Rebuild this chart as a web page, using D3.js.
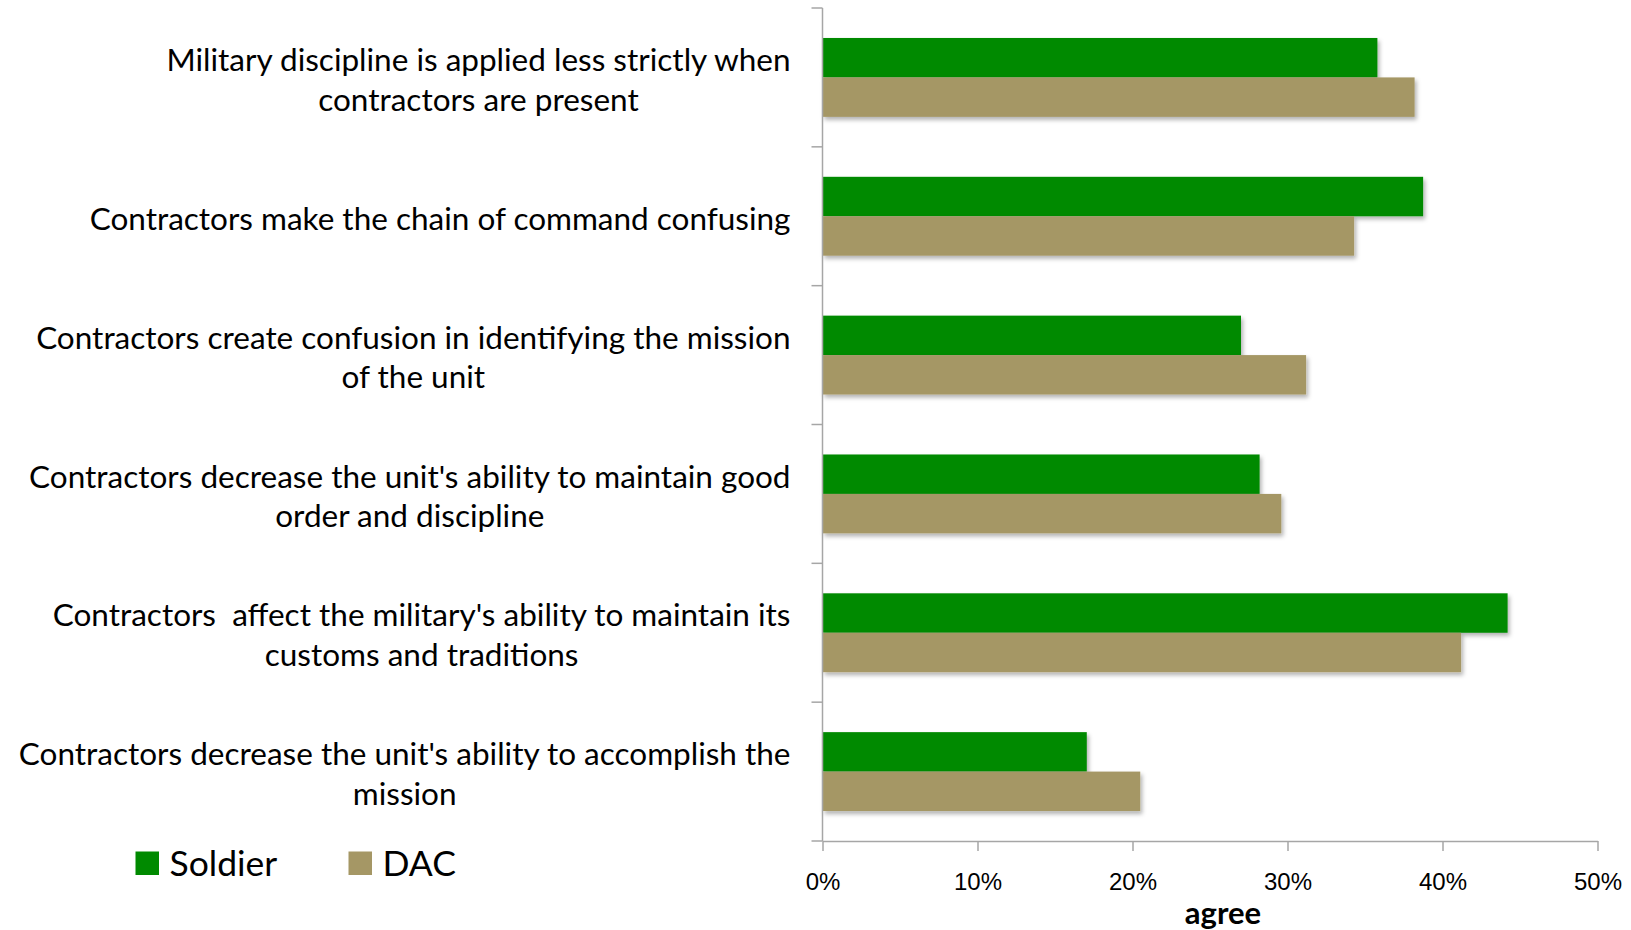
<!DOCTYPE html>
<html>
<head>
<meta charset="utf-8">
<style>
  body { margin: 0; background: #fff; }
  svg { display: block; font-family: Lato, "Open Sans", sans-serif; }
  .lbl { font-size: 31.5px; fill: #000; white-space: pre; }
  .tick text { font-size: 24px; fill: #000; }
</style>
</head>
<body>
<script src="https://cdnjs.cloudflare.com/ajax/libs/d3/7.8.5/d3.min.js"></script>
<script>
// category labels, one array of lines per category (top to bottom)
var categories = [
  ["Military discipline is applied less strictly when", "contractors are present"],
  ["Contractors make the chain of command confusing"],
  ["Contractors create confusion in identifying the mission", "of the unit"],
  ["Contractors decrease the unit's ability to maintain good", "order and discipline"],
  ["Contractors  affect the military's ability to maintain its", "customs and traditions"],
  ["Contractors decrease the unit's ability to accomplish the", "mission"]
];
var series = ["Soldier", "DAC"];
var soldier = [0.358, 0.3875, 0.270, 0.282, 0.442, 0.1705];
var dac     = [0.382, 0.343, 0.312, 0.296, 0.412, 0.205];
var xTicks = [0, 0.1, 0.2, 0.3, 0.4, 0.5];
var colors = {"Soldier": "#008a00", "DAC": "#a59765"};

var W = 1631, H = 930;
var svg = d3.select("body").append("svg").attr("width", W).attr("height", H);

var defs = svg.append("defs");
var f = defs.append("filter").attr("id", "shadow")
    .attr("x", "-5%").attr("y", "-20%").attr("width", "110%").attr("height", "150%");
f.append("feDropShadow").attr("dx", 2).attr("dy", 3)
    .attr("stdDeviation", 2).attr("flood-color", "#000").attr("flood-opacity", 0.3);

var ids = categories.map(function(d, i) { return i; });

var x = d3.scaleLinear().domain([0, 0.5]).range([822.5, 1597.5]);
var y = d3.scaleBand().domain(ids).range([8, 841]).padding(0);
var ySub = d3.scaleBand().domain(series).range([0, y.bandwidth()]).paddingInner(0).paddingOuter(0.76);

var rows = ids.map(function(i) { return {i: i, Soldier: soldier[i], DAC: dac[i]}; });

// bars
var g = svg.append("g");
rows.forEach(function(r) {
  series.forEach(function(s) {
    g.append("rect")
      .attr("x", x(0))
      .attr("y", y(r.i) + ySub(s))
      .attr("width", x(r[s]) - x(0))
      .attr("height", ySub.bandwidth())
      .attr("fill", colors[s])
      .attr("filter", "url(#shadow)");
  });
});

// y axis: line plus ticks on band boundaries
var axisCol = "#a6a6a6";
var bounds = ids.map(function(i) { return y(i); }).concat([y.range()[1]]);
svg.append("line")
  .attr("x1", x(0)).attr("x2", x(0))
  .attr("y1", y.range()[0]).attr("y2", y.range()[1])
  .attr("stroke", axisCol).attr("stroke-width", 1.5);
svg.selectAll(".ytick").data(bounds).enter().append("line")
  .attr("class", "ytick")
  .attr("x1", x(0) - 11).attr("x2", x(0))
  .attr("y1", function(d) { return d; }).attr("y2", function(d) { return d; })
  .attr("stroke", axisCol).attr("stroke-width", 1.5);

// x axis
var xAxis = d3.axisBottom(x).tickValues(xTicks).tickFormat(d3.format(".0%"))
  .tickSize(10).tickSizeOuter(0);
var xg = svg.append("g").attr("transform", "translate(0," + y.range()[1] + ")").call(xAxis);
xg.select(".domain").attr("stroke", axisCol).attr("stroke-width", 1.5);
xg.selectAll(".tick line").attr("stroke", axisCol).attr("stroke-width", 1.5);
xg.selectAll(".tick text").attr("y", 41).attr("dy", "0.35em");

svg.append("text")
  .attr("x", 1223).attr("y", 913).attr("dy", "0.35em")
  .attr("text-anchor", "middle")
  .style("font-size", "31px").style("font-weight", "bold")
  .text("agree");

// category labels: lines centred on each other, block right-aligned
var lineH = 39.6, rightX = 790.5;
categories.forEach(function(lines, i) {
  var cy = y(i) + y.bandwidth() / 2 + 2.5;
  var t = svg.append("text").attr("class", "lbl").attr("text-anchor", "middle");
  var spans = lines.map(function(l, k) {
    return t.append("tspan")
      .attr("y", cy + (k - (lines.length - 1) / 2) * lineH)
      .attr("dy", "0.35em")
      .text(l);
  });
  var maxW = d3.max(spans, function(s) { return s.node().getComputedTextLength(); });
  spans.forEach(function(s) { s.attr("x", rightX - maxW / 2); });
});

// legend
var legX = [135.5, 348.5];
series.forEach(function(s, k) {
  svg.append("rect")
    .attr("x", legX[k]).attr("y", 851.5)
    .attr("width", 23.5).attr("height", 23.5)
    .attr("fill", colors[s]);
  svg.append("text")
    .attr("x", legX[k] + 34).attr("y", 863.5).attr("dy", "0.35em")
    .style("font-size", "35.5px")
    .text(s);
});
</script>
</body>
</html>
